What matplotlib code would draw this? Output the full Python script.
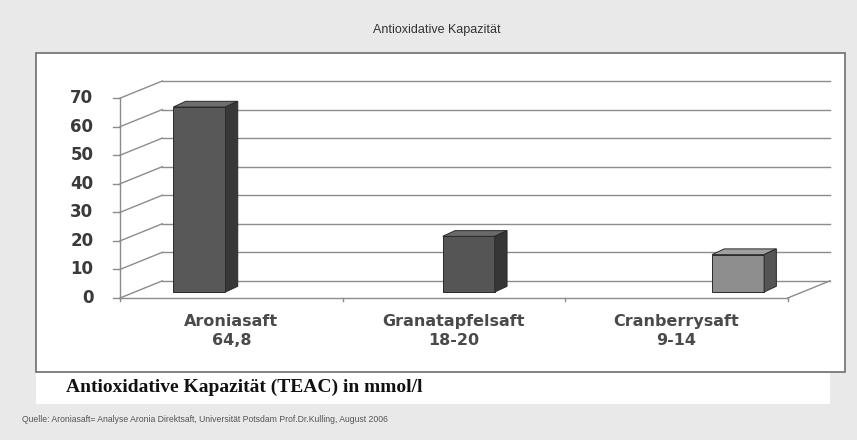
import matplotlib
matplotlib.use("Agg")
import matplotlib.pyplot as plt
from matplotlib.patches import Polygon, Rectangle

# data
categories = ["Aroniasaft", "Granatapfelsaft", "Cranberrysaft"]
range_labels = ["64,8", "18-20", "9-14"]
values = [64.8, 19.5, 13.1]
yticks = [0, 10, 20, 30, 40, 50, 60, 70]

title = "Antioxidative Kapazität"
unit_label = "Antioxidative Kapazität (TEAC) in mmol/l"
source = "Quelle: Aroniasaft= Analyse Aronia Direktsaft, Universität Potsdam Prof.Dr.Kulling, August 2006"

front_cols = ["#585858", "#555555", "#8e8e8e"]
top_cols = ["#6e6e6e", "#6a6a6a", "#a0a0a0"]
side_cols = ["#383838", "#363636", "#555555"]

W, H = 857, 440
fig = plt.figure(figsize=(W / 100, H / 100), dpi=100)
fig.patch.set_facecolor("#e9e9e9")

# white panels (in pixel units via figure fraction)
def px_rect(x0, y0, x1, y1, **kw):
    fig.patches.append(Rectangle((x0 / W, 1 - y1 / H), (x1 - x0) / W, (y1 - y0) / H,
                                 transform=fig.transFigure, zorder=-1, **kw))

px_rect(36, 53, 845, 372, facecolor="white", edgecolor="#6e6e6e", lw=1.2)
px_rect(36, 373, 830, 404, facecolor="white", edgecolor="none")

fig.text(437 / W, 1 - 30 / H, title, ha="center", va="center", fontsize=9,
         family="Liberation Sans", color="#333333")

# plot axes: front axis at px 120, floor at px 298
ax = fig.add_axes([120 / W, 1 - 298 / H, 710 / W, 217 / H])
ax.patch.set_visible(False)
D = 0.19   # wall depth in category units
E = 6.0    # wall depth in value units
ax.set_xlim(-0.5, 2.5 + D)
ax.set_ylim(0, 70 + E + 0.01)
ax.axis("off")

grid = "#8c8c8c"
for v in yticks:
    ax.plot([-0.5 + D, 2.5 + D], [v + E, v + E], color=grid, lw=1.0, clip_on=False)
    ax.plot([-0.5, -0.5 + D], [v, v + E], color=grid, lw=1.0, clip_on=False)
    ax.plot([-0.53, -0.5], [v, v], color=grid, lw=1.0, clip_on=False)
ax.plot([-0.5, -0.5], [0, 70], color=grid, lw=1.0, clip_on=False)
ax.plot([-0.5, 2.5], [0, 0], color=grid, lw=1.0, clip_on=False)
ax.plot([2.5, 2.5 + D], [0, E], color=grid, lw=1.0, clip_on=False)
for xt in [-0.5, 0.5, 1.5, 2.5]:
    ax.plot([xt, xt], [0, -1.2], color=grid, lw=1.0, clip_on=False)

# bars (slight perspective spread)
bw = 0.234
sdx, sdy = 0.055, 2.0
base = 2.1
xs = [i + 0.21 * (i - 1) + 0.067 for i in range(len(values))]
for i, (x, v) in enumerate(zip(xs, values)):
    ax.bar(x, v, bottom=base, width=bw, color=front_cols[i], edgecolor="#2a2a2a",
           lw=0.7, zorder=3)
    l, r, t = x - bw / 2, x + bw / 2, base + v
    ax.add_patch(Polygon([(l, t), (r, t), (r + sdx, t + sdy), (l + sdx, t + sdy)],
                         closed=True, facecolor=top_cols[i], edgecolor="#2a2a2a",
                         lw=0.7, zorder=3))
    ax.add_patch(Polygon([(r, base), (r, t), (r + sdx, t + sdy), (r + sdx, base + sdy)],
                         closed=True, facecolor=side_cols[i], edgecolor="#2a2a2a",
                         lw=0.7, zorder=3))

# y tick labels
for v in yticks:
    ax.text(-0.62, v, str(v), ha="right", va="center", fontsize=12,
            fontweight="bold", color="#3a3a3a", family="DejaVu Sans", clip_on=False)

# category labels
for i, (c, r) in enumerate(zip(categories, range_labels)):
    ax.text(i, -8.4, c, ha="center", va="center", fontsize=11.5, fontweight="bold",
            color="#4a4a4a", family="DejaVu Sans", clip_on=False)
    ax.text(i, -14.8, r, ha="center", va="center", fontsize=11.5, fontweight="bold",
            color="#4a4a4a", family="DejaVu Sans", clip_on=False)

fig.text(66 / W, 1 - 387 / H, unit_label, ha="left", va="center", fontsize=14,
         fontweight="bold", family="Liberation Serif", color="#111111")
fig.text(22 / W, 1 - 419 / H, source, ha="left", va="center", fontsize=6.2,
         family="Liberation Sans", color="#555555")

fig.savefig("out.png", dpi=100, facecolor=fig.get_facecolor())
